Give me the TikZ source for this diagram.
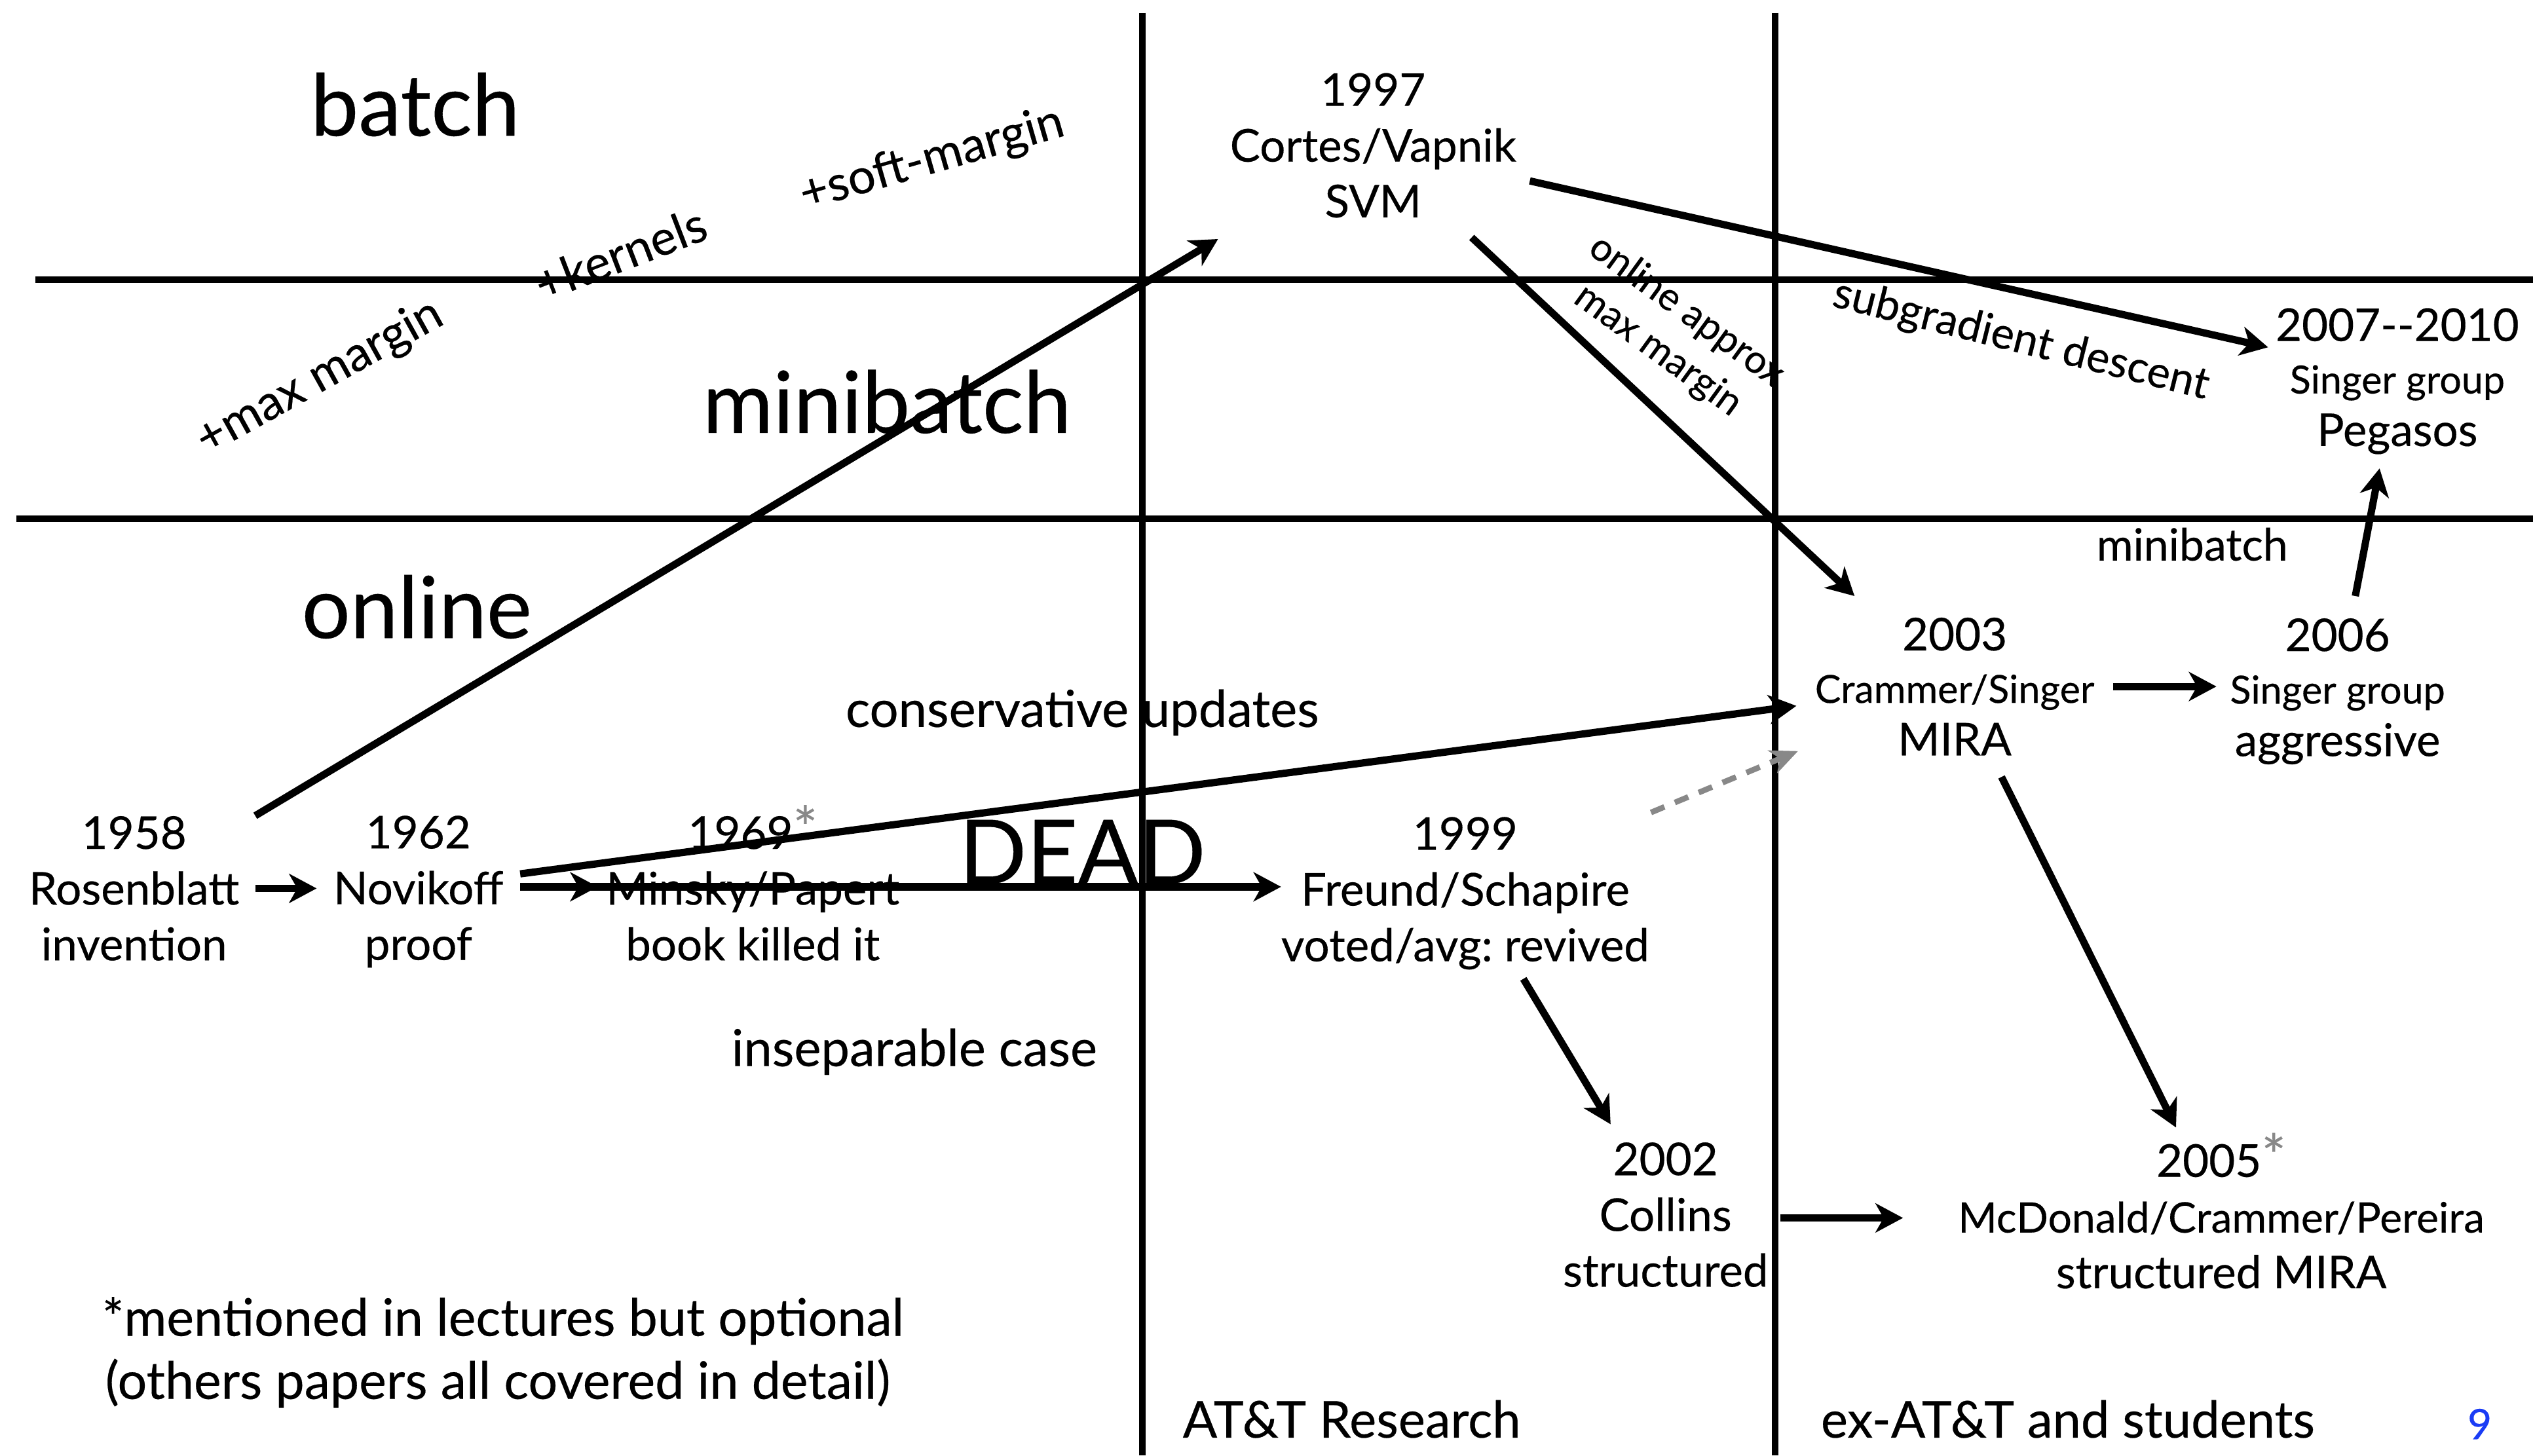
\documentclass[tikz,border=0pt]{standalone}
\usepackage{fontspec}
\setmainfont{Lato}[FakeBold=0.3]
\usetikzlibrary{arrows.meta,calc}
\definecolor{gr}{HTML}{888888}
\definecolor{pg}{HTML}{1A3CF5}
\newcommand{\fsz}[2]{\fontsize{#1}{#2}\selectfont}
\newcommand{\gast}{\smash{\color{gr}\fsz{36}{36}*}}
\frenchspacing
\begin{document}
\begin{tikzpicture}[x=1pt,y=-1pt,
  gridline/.style={line width=4pt},
  arr/.style={line width=4.5pt,-{Stealth[length=17pt,width=18pt,inset=5pt]}},
  dasharr/.style={gr,line width=3.5pt,dash pattern=on 9pt off 7pt,-{Stealth[length=17pt,width=15pt,inset=5pt]}},
  ev/.style={align=center,inner sep=0pt,font=\fsz{28}{34.5}},
  evs/.style={align=center,inner sep=0pt,font=\fsz{28}{32.5}},
  lbl/.style={inner sep=0pt,anchor=base,font=\fsz{31.5}{35}},
  big/.style={inner sep=0pt,anchor=base,font=\fsz{53}{60}},
  rot/.style={inner sep=0pt,font=\fsz{30}{33}},
]
\useasboundingbox (0,0) rectangle (1568,901);
% grid
\draw[gridline] (22,173) -- (1568,173);
\draw[gridline] (10,321) -- (1568,321);
\draw[gridline] (707,8) -- (707,901);
\draw[gridline] (1099,8) -- (1099,901);
% region labels
\node[big] (lbatch) at (257,84) {batch};
\node[big] (lmini) at (549,268) {minibatch};
\node[big] (lonline) at (258,395) {online};
\node[big,font=\fsz{55}{60}] (dead) at (670,547) {DEAD};
% rotated labels
\node[rot,rotate=29] (tmax) at (198,234) {+max margin};
\node[rot,rotate=21] (tker) at (384,157) {+kernels};
\node[rot,rotate=16] (tsoft) at (577,99) {+soft-margin};
\node[rot,rotate=-36,align=center,font=\fsz{24}{30}] (tonl) at (1035,205) {online approx\\max margin};
\node[rot,rotate=-14,font=\fsz{27}{30}] (tsub) at (1251,211) {subgradient descent};
% events
\node[ev] (r58) at (83,550) {1958\\Rosenblatt\\invention};
\node[ev] (n62) at (259,552) {1962\\Novikoff\\proof};
\node[ev] (m69) at (466,550) {1969\gast\\Minsky/Papert\\book killed it};
\node[ev] (f99) at (907,553) {1999\\Freund/Schapire\\voted/avg: revived};
\node[ev] (svm) at (850,90) {1997\\Cortes/Vapnik\\SVM};
\node[evs] (mira) at (1210,425) {2003\\{\fsz{24}{30}Crammer/Singer}\\MIRA};
\node[evs] (s06) at (1447,428) {2006\\{\fsz{24}{30}Singer group}\\aggressive};
\node[evs] (peg) at (1484,236) {2007-{}-2010\\{\fsz{24}{30}Singer group}\\Pegasos};
\node[ev] (c02) at (1031,752) {2002\\Collins\\structured};
\node[ev] (mcd) at (1375,753) {2005\gast\\{\fsz{26}{30}McDonald/Crammer/Pereira}\\structured MIRA};
% other labels
\node[lbl] (cons) at (670,450) {conservative updates};
\node[lbl] (insep) at (566,660) {inseparable case};
\node[lbl,font=\fsz{27.5}{30}] (mb2) at (1357,347) {minibatch};
\node[lbl,anchor=base west] (att) at (732,890) {AT\&T Research};
\node[lbl,anchor=base west] (exatt) at (1127,890) {ex-AT\&T and students};
\node[lbl,text=pg,font=\fsz{26}{30}] (pnum) at (1535,891) {9};
\node[lbl,anchor=base west,font=\fsz{32}{35}] (fn1) at (63,827) {*mentioned in lectures but optional};
\node[lbl,anchor=base west,font=\fsz{32}{35}] (fn2) at (65,866) {(others papers all covered in detail)};
% connectors
\draw[arr] ($(r58)+(75,0)$) -- ($(n62)+(-63,-2)$);
\draw[arr] ($(n62)+(63,-3)$) -- ($(m69)+(-96,-1)$);
\draw[arr] ($(m69)+(-104,-1)$) -- ($(f99)+(-114,-4)$);
\draw[arr] ($(r58)+(75,-45)$) -- ($(svm)+(-96,58)$);
\draw[arr] ($(n62)+(63,-11)$) -- ($(mira)+(-98,12)$);
\coordinate (dstart) at (1022,503);
\draw[dasharr] (dstart) -- ($(mira)+(-97,40)$);
\draw[arr] ($(svm)+(61,57)$) -- ($(mira)+(-62,-56)$);
\draw[arr] ($(svm)+(97,22)$) -- ($(peg)+(-80,-21)$);
\draw[arr] ($(mira)+(98,0)$) -- ($(s06)+(-75,-3)$);
\draw[arr] ($(s06)+(11,-59)$) -- ($(peg)+(-11,54)$);
\draw[arr] ($(f99)+(36,53)$) -- ($(c02)+(-34,-56)$);
\draw[arr] ($(mira)+(29,56)$) -- ($(mcd)+(-28,-55)$);
\draw[arr] ($(c02)+(71,2)$) -- ($(mcd)+(-197,1)$);
\end{tikzpicture}
\end{document}
